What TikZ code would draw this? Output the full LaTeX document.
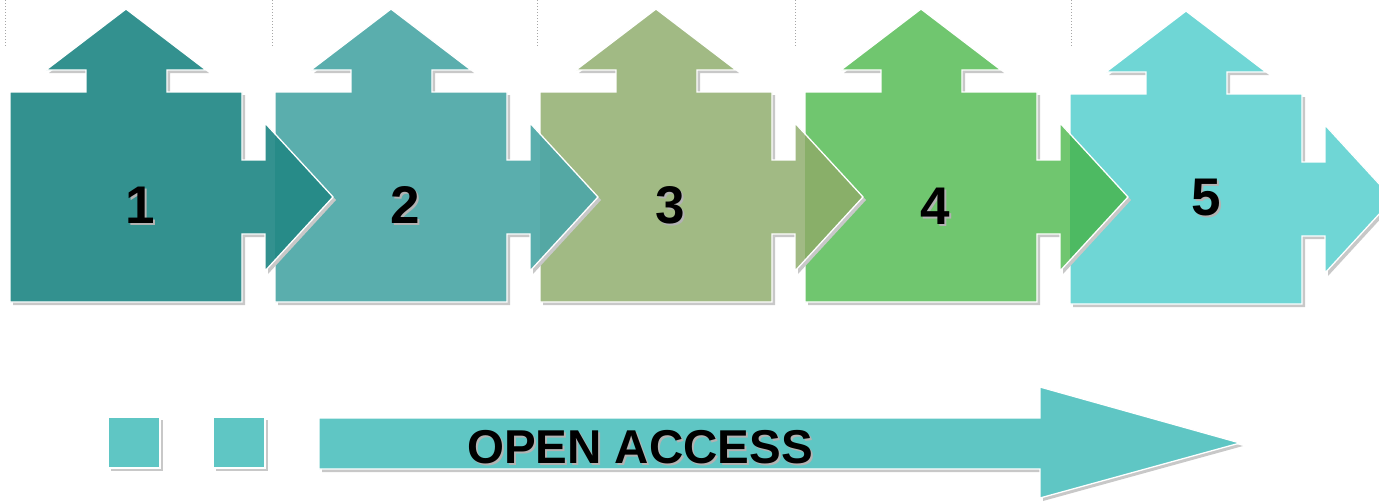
\documentclass[tikz,border=0pt]{standalone}
\usepackage{fontspec}
\setmainfont{Liberation Sans}
\definecolor{cA}{HTML}{33918F}
\definecolor{cAo}{HTML}{278B88}
\definecolor{cB}{HTML}{5AAEAD}
\definecolor{cBo}{HTML}{54A8A4}
\definecolor{cC}{HTML}{A1BA84}
\definecolor{cCo}{HTML}{89AF69}
\definecolor{cD}{HTML}{70C66F}
\definecolor{cDo}{HTML}{4DBA62}
\definecolor{cE}{HTML}{6FD6D5}
\definecolor{cF}{HTML}{5FC6C4}
\definecolor{shd}{HTML}{C8C8C8}
\tikzset{
  pzp/.style={insert path={(10,92) -- (86,92) -- (86,70) -- (46,70) -- (126,9) -- (206,70) -- (167,70) -- (167,92) -- (242,92) -- (242,160) -- (265,160) -- (265,123) -- (333,197) -- (265,271) -- (265,234) -- (242,234) -- (242,302) -- (10,302) -- cycle}},
  edge/.style={draw=white, line width=1.3pt, line join=miter},
  shadowfill/.style={fill=shd},
  numtxt/.style={font=\bfseries\fontsize{53}{53}\selectfont, inner sep=0pt},
  numshd/.style={numtxt, text=black!30},
  bigtxt/.style={font=\bfseries\fontsize{47.5}{47.5}\selectfont, inner sep=0pt},
  dots/.style={draw=black!35, line width=1pt, dotted},
}
\newcommand\puzzle[4]{% x offset, y offset, colour, overlap colour
  \begin{scope}[shift={(#1,#2)}]
    \path[shadowfill, shift={(3,3)}, pzp];
    \path[fill=#3, pzp];
    \begin{scope}
      \clip (275,0) rectangle (400,400);
      \path[fill=#4, pzp];
    \end{scope}
    \path[edge, pzp];
  \end{scope}}
\begin{document}
\begin{tikzpicture}[x=1pt, y=-1pt]
  \useasboundingbox (0,0) rectangle (1379,501);
  \clip (0,0) rectangle (1379,501);
  % dotted guides
  \foreach \xx in {5,272,537,795,1071} \draw[dots] (\xx,0) -- (\xx,46);
  % puzzle shapes, back to front
  \puzzle{1060}{2}{cE}{cE}
  \puzzle{795}{0}{cD}{cDo}
  \puzzle{530}{0}{cC}{cCo}
  \puzzle{265}{0}{cB}{cBo}
  \puzzle{0}{0}{cA}{cAo}
  % numbers
  \foreach \k/\xx/\yy in {1/140/205,2/405/205,3/670/205,4/935/206,5/1206/198}{
    \node[numshd] (s\k) at (\xx+2,\yy+2) {\k};
    \node[numtxt] (n\k) at (\xx,\yy) {\k};
  }
  % bottom squares
  \fill[shd] (111,420) rectangle (163,471);
  \draw[edge, fill=cF] (108,417) rectangle (160,468);
  \fill[shd] (216,420) rectangle (268,471);
  \draw[edge, fill=cF] (213,417) rectangle (265,468);
  % bottom arrow
  \fill[shd, shift={(3,3)}] (319,418) -- (1040,418) -- (1040,387) -- (1240,443) -- (1040,498) -- (1040,469) -- (319,469) -- cycle;
  \draw[edge, fill=cF] (319,418) -- (1040,418) -- (1040,387) -- (1240,443) -- (1040,498) -- (1040,469) -- (319,469) -- cycle;
  \node[bigtxt, text=black!30] (oas) at (642,449) {OPEN ACCESS};
  \node[bigtxt] (oa) at (640,447) {OPEN ACCESS};
\end{tikzpicture}
\end{document}
